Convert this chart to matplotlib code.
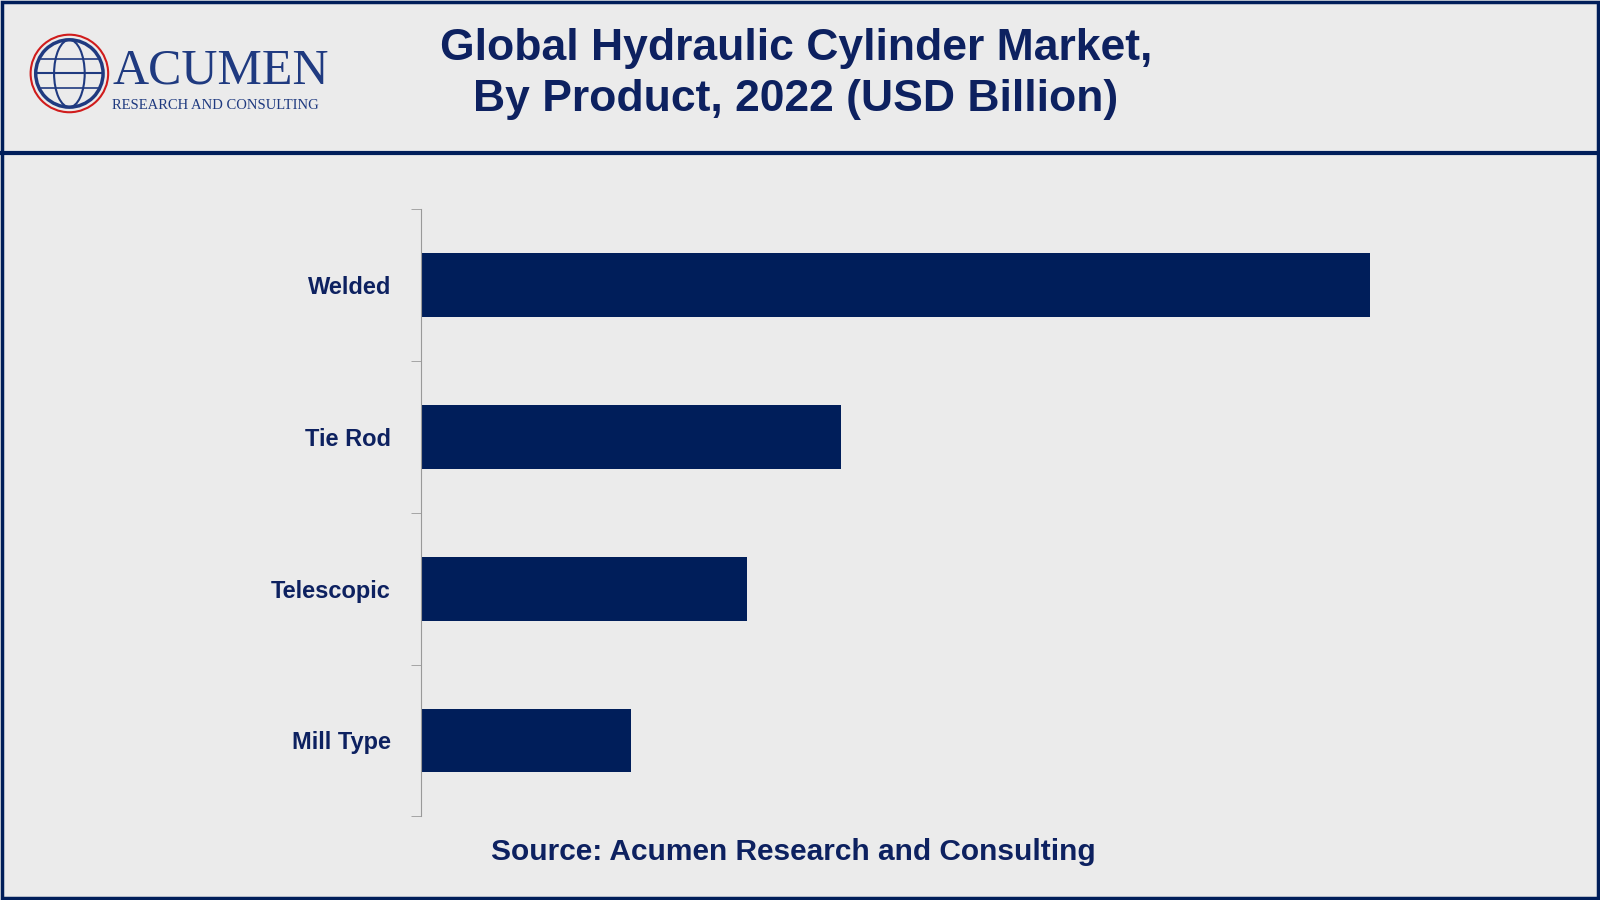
import matplotlib
matplotlib.use("Agg")
import matplotlib.pyplot as plt
from matplotlib.patches import Rectangle, Ellipse
from matplotlib.lines import Line2D

categories = ["Welded", "Tie Rod", "Telescopic", "Mill Type"]
values = [4.52, 2.0, 1.55, 1.0]

navy = "#001e5a"
txt = "#0d2160"
bg = "#ebebeb"
W, H = 1568, 882

fig = plt.figure(figsize=(16, 9), dpi=100, facecolor=bg)
def fx(x): return x / W
def fy(y): return 1 - y / H

fig.add_artist(Rectangle((0.001, 0.002), 0.998, 0.996, transform=fig.transFigure, fill=False, edgecolor=navy, lw=2.5))
fig.add_artist(Line2D([0, 1], [fy(150), fy(150)], transform=fig.transFigure, color=navy, lw=3))

fig.text(fx(780), fy(48), "Global Hydraulic Cylinder Market,", ha="center", va="center",
         fontsize=32, fontweight="bold", color=txt, family="Liberation Sans")
fig.text(fx(780), fy(98), "By Product, 2022 (USD Billion)", ha="center", va="center",
         fontsize=32, fontweight="bold", color=txt, family="Liberation Sans")

# logo
fig.add_artist(Ellipse((fx(68), fy(72)), 66 / W, 66 / H, transform=fig.transFigure,
                       fill=False, edgecolor="#1f3a80", lw=2.5))
fig.add_artist(Ellipse((fx(68), fy(72)), 30 / W, 66 / H, transform=fig.transFigure,
                       fill=False, edgecolor="#1f3a80", lw=1.5))
fig.add_artist(Line2D([fx(35), fx(101)], [fy(72), fy(72)], transform=fig.transFigure, color="#1f3a80", lw=1.5))
fig.add_artist(Line2D([fx(40), fx(96)], [fy(58), fy(58)], transform=fig.transFigure, color="#1f3a80", lw=1.2))
fig.add_artist(Line2D([fx(40), fx(96)], [fy(86), fy(86)], transform=fig.transFigure, color="#1f3a80", lw=1.2))
fig.add_artist(Ellipse((fx(68), fy(72)), 76 / W, 76 / H, transform=fig.transFigure,
                       fill=False, edgecolor="#d01c1c", lw=1.5))
fig.text(fx(110), fy(70), "ACUMEN", fontsize=36, family="Liberation Serif", color="#1f3a80", va="center")
fig.text(fx(110), fy(103), "RESEARCH AND CONSULTING", fontsize=10.5, family="Liberation Serif", color="#1f3a80", va="center")

ax = fig.add_axes([fx(413), fy(800), fx(1450) - fx(413), fy(205) - fy(800)])
ax.set_facecolor(bg)
y = list(range(len(categories)))
ax.barh(y, values, height=0.42, color=navy)
ax.set_ylim(len(categories) - 0.5, -0.5)
ax.set_xlim(0, 5.04)
ax.set_yticks(y)
ax.set_yticklabels(categories, fontsize=17, fontweight="bold", color=txt, family="Liberation Sans")
ax.tick_params(axis="y", which="major", length=0, pad=22)
ax.set_yticks([i - 0.5 for i in range(len(categories) + 1)], minor=True)
ax.tick_params(axis="y", which="minor", length=7, color="#999999")
ax.set_xticks([])
for s in ["top", "right", "bottom"]:
    ax.spines[s].set_visible(False)
ax.spines["left"].set_color("#999999")

fig.text(fx(777), fy(835), "Source: Acumen Research and Consulting", ha="center", va="center",
         fontsize=21.5, fontweight="bold", color=txt, family="Liberation Sans")

fig.savefig("out.png", facecolor=bg)
